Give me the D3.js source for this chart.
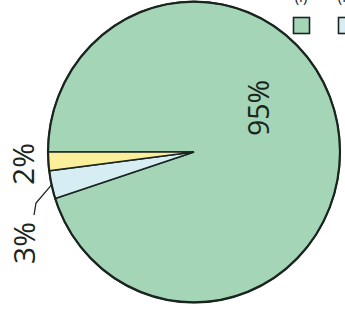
<!DOCTYPE html>
<html>
<head>
<meta charset="utf-8">
<script src="https://cdn.jsdelivr.net/npm/d3@7"></script>
<style>
  body { margin: 0; background: #fff; }
  svg { display: block; }
  text { font-family: "Open Sans", "DejaVu Sans", sans-serif; fill: #1b2520; }
</style>
</head>
<body>
<svg id="svg" width="345" height="309"></svg>
<script>
// slices, in drawing order (clockwise from 9 o'clock)
var categories = ["a", "b", "c"];
var values = [95, 3, 2];
var labels = ["95%", "3%", "2%"];
var colors = ["#a3d5b6", "#d6edf3", "#fbef9c"];
var legendItems = ["(i)", "(ii)"];

var svg = d3.select("#svg");

var cx = 194, cy = 152, r = 146;

var pie = d3.pie()
  .sort(null)
  .startAngle(-Math.PI / 2)
  .endAngle(3 * Math.PI / 2)
  .value(function(d) { return d; });

var arc = d3.arc().innerRadius(0).outerRadius(r);

var g = svg.append("g")
  .attr("transform", "translate(" + cx + "," + cy + ") scale(1,1.03)");

var arcs = pie(values);

g.selectAll("path.slice").data(arcs).enter()
  .append("path")
  .attr("class", "slice")
  .attr("d", arc)
  .attr("fill", function(d, i) { return colors[i]; })
  .attr("stroke", "#1b2520")
  .attr("stroke-width", 1.5)
  .attr("stroke-linejoin", "miter");

// outer rim a bit heavier
g.append("circle")
  .attr("r", r)
  .attr("fill", "none")
  .attr("stroke", "#1b2520")
  .attr("stroke-width", 2.2);

// labels (rotated, the page is turned)
var labelPos = [[258, 108, 28.5], [23, 243, 30], [22, 164, 30]];

svg.selectAll("text.lbl").data(arcs).enter()
  .append("text")
  .attr("class", "lbl")
  .attr("transform", function(d, i) {
    return "translate(" + labelPos[i][0] + "," + labelPos[i][1] + ") rotate(-90)";
  })
  .attr("text-anchor", "middle")
  .attr("dominant-baseline", "central")
  .attr("font-size", function(d, i) { return labelPos[i][2]; })
  .text(function(d, i) { return labels[i]; });

// leader line for 3%
var b = arcs[1];
var mid = (b.startAngle + b.endAngle) / 2;
var px = cx + Math.sin(mid) * r, py = cy - Math.cos(mid) * r * 1.03;
svg.append("path")
  .attr("d", d3.line()([[px, py], [36, 203], [34, 215]]))
  .attr("fill", "none")
  .attr("stroke", "#1b2520")
  .attr("stroke-width", 1.3);

// legend, cut by the top edge
var legend = svg.selectAll("g.leg").data(legendItems).enter()
  .append("g")
  .attr("class", "leg")
  .attr("transform", function(d, i) { return "translate(" + (293 + i * 45) + ",0)"; });

legend.append("rect")
  .attr("x", 0.5).attr("y", 17.5)
  .attr("width", 16).attr("height", 16)
  .attr("fill", function(d, i) { return colors[i]; })
  .attr("stroke", "#1b2520")
  .attr("stroke-width", 1.6);

legend.append("text")
  .attr("x", 8).attr("y", 2)
  .attr("text-anchor", "middle")
  .attr("font-size", 15)
  .text(function(d) { return d; });
</script>
</body>
</html>
